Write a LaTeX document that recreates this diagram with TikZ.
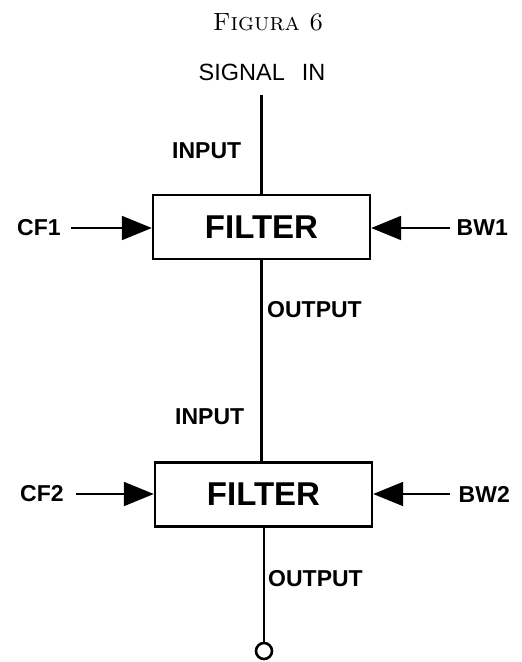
\documentclass[tikz,border=0pt]{standalone}
\usepackage{fontspec}
\setsansfont{Liberation Sans}
\usetikzlibrary{arrows.meta}

\tikzset{
  lbl/.style={font=\sffamily\bfseries\fontsize{23}{26}\selectfont, inner sep=0pt},
  wire/.style={line width=2.6pt},
  filt/.style={draw, line width=2.4pt, minimum width=217pt, minimum height=64pt,
    font=\sffamily\bfseries\fontsize{33}{36}\selectfont},
  ctl/.style={line width=2pt, -{Triangle[length=30pt,width=24pt]}},
}

\begin{document}
\begin{tikzpicture}[x=1pt,y=-1pt]
  \useasboundingbox (0,0) rectangle (522,662);
  \node (title) at (268,22) {\fontsize{25}{28}\selectfont\textsc{Figura 6}};
  \node[font=\sffamily\fontsize{23.5}{26}\selectfont, inner sep=0pt] (sig) at (262,72) {SIGNAL\hspace{17pt}IN};

  % first filter
  \node[filt] (f1) at (261.5,227) {FILTER};
  \node[lbl, anchor=west] (cf1) at (17,228) {CF1};
  \node[lbl, anchor=east] (bw1) at (508,228) {BW1};
  \draw[wire] ([yshift=-14pt]sig.south -| f1.north) -- (f1.north);
  \draw[ctl] ([xshift=10pt]cf1.east) -- (cf1.east -| f1.west);
  \draw[ctl] ([xshift=-6pt]bw1.west) -- (bw1.west -| f1.east);
  \node[lbl, anchor=west] (in1) at (172,151) {INPUT};
  \node[lbl, anchor=west] (out1) at (267,310) {OUTPUT};

  % second filter
  \node[filt] (f2) at (263.5,494.5) {FILTER};
  \node[lbl, anchor=west] (cf2) at (20,494) {CF2};
  \node[lbl, anchor=east] (bw2) at (510,494) {BW2};
  \draw[wire] (f1.south) -- (f1.south |- f2.north);
  \draw[ctl] ([xshift=12pt]cf2.east) -- (cf2.east -| f2.west);
  \draw[ctl] ([xshift=-8pt]bw2.west) -- (bw2.west -| f2.east);
  \node[lbl, anchor=west] (in2) at (175,417) {INPUT};
  \node[lbl, anchor=west] (out2) at (268,579) {OUTPUT};

  \node[circle, draw, line width=2.6pt, minimum size=16pt, inner sep=0pt] (sink) at (264,651) {};
  \draw[wire] (f2.south -| sink.north) -- (sink.north);
\end{tikzpicture}
\end{document}
